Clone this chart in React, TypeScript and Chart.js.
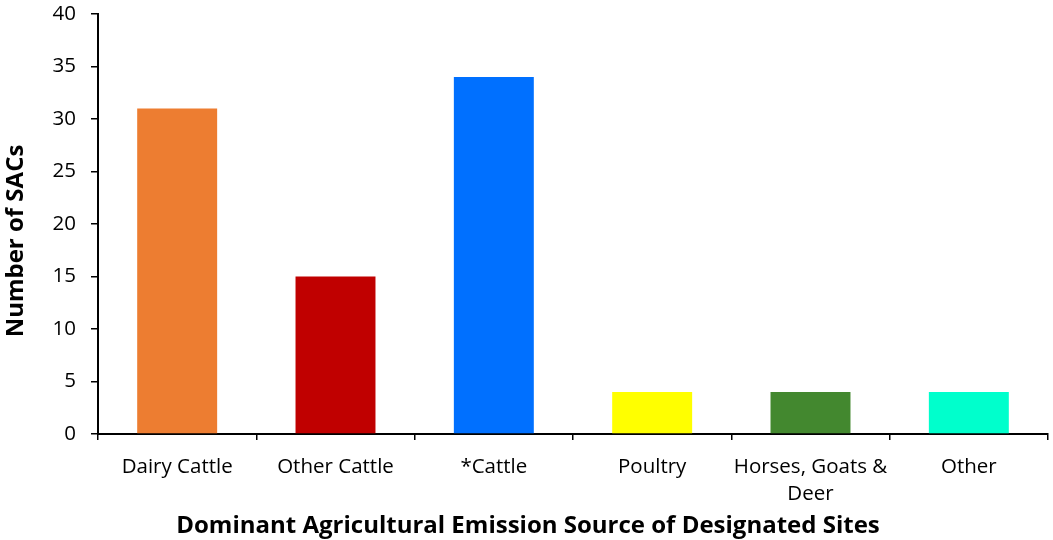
import React, { useEffect, useRef } from "react";
import { Chart, registerables } from "chart.js";

Chart.register(...registerables);

const categories: (string | string[])[] = [
  "Dairy Cattle",
  "Other Cattle",
  "*Cattle",
  "Poultry",
  ["Horses, Goats &", "Deer"],
  "Other",
];
const sacCounts = [31, 15, 34, 4, 4, 4];
const barColors = ["#ED7D31", "#C00000", "#0070FF", "#FFFF00", "#43882F", "#00FFCC"];
const yTitle = "Number of SACs";
const xTitle = "Dominant Agricultural Emission Source of Designated Sites";

const FONT = "'Open Sans', sans-serif";

const titlePlugin = {
  id: "customTitles",
  afterDraw(chart: any) {
    const ctx = chart.ctx;
    ctx.save();
    ctx.fillStyle = "#000";
    ctx.font = `bold 24px ${FONT}`;
    ctx.textAlign = "center";
    ctx.textBaseline = "middle";
    ctx.fillText(xTitle, 528, 526);
    ctx.translate(16, 241);
    ctx.rotate(-Math.PI / 2);
    ctx.fillText(yTitle, 0, 0);
    ctx.restore();
  },
};

export default function App() {
  const ref = useRef<HTMLCanvasElement>(null);
  useEffect(() => {
    if (!ref.current) return;
    const chart = new Chart(ref.current, {
      type: "bar",
      data: {
        labels: categories,
        datasets: [
          {
            data: sacCounts,
            backgroundColor: barColors,
            borderWidth: 0,
            categoryPercentage: 1,
            barPercentage: 0.505,
          },
        ],
      },
      options: {
        animation: false,
        responsive: false,
        maintainAspectRatio: false,
        layout: { padding: { top: 14, right: 5, left: 0, bottom: 0 } },
        plugins: { legend: { display: false }, tooltip: { enabled: false } },
        scales: {
          x: {
            afterFit: (s: any) => {
              s.height = 106;
              s.paddingLeft = 0;
              s.paddingRight = 0;
            },
            border: { display: true, color: "#000", width: 2 },
            grid: {
              display: true,
              drawOnChartArea: false,
              drawTicks: true,
              tickLength: 6,
              color: "#000",
              lineWidth: 1.5,
              offset: true,
            },
            ticks: {
              color: "#000",
              font: { family: FONT, size: 20.5, lineHeight: 1.35 },
              padding: 13,
              maxRotation: 0,
              autoSkip: false,
            },
          },
          y: {
            min: 0,
            max: 40,
            afterFit: (s: any) => {
              s.width = 98;
              s.paddingTop = 0;
              s.paddingBottom = 0;
            },
            border: { display: true, color: "#000", width: 2 },
            grid: {
              display: true,
              drawOnChartArea: false,
              drawTicks: true,
              tickLength: 7,
              color: "#000",
              lineWidth: 1.5,
            },
            ticks: {
              stepSize: 5,
              color: "#000",
              font: { family: FONT, size: 20.5 },
              padding: 15,
            },
          },
        },
      },
      plugins: [titlePlugin],
    });
    return () => chart.destroy();
  }, []);
  return (
    <div style={{ position: "fixed", left: 0, top: 0, width: 1053, height: 540, background: "#fff" }}>
      <canvas ref={ref} width={1053} height={540} style={{ width: 1053, height: 540 }} />
    </div>
  );
}
